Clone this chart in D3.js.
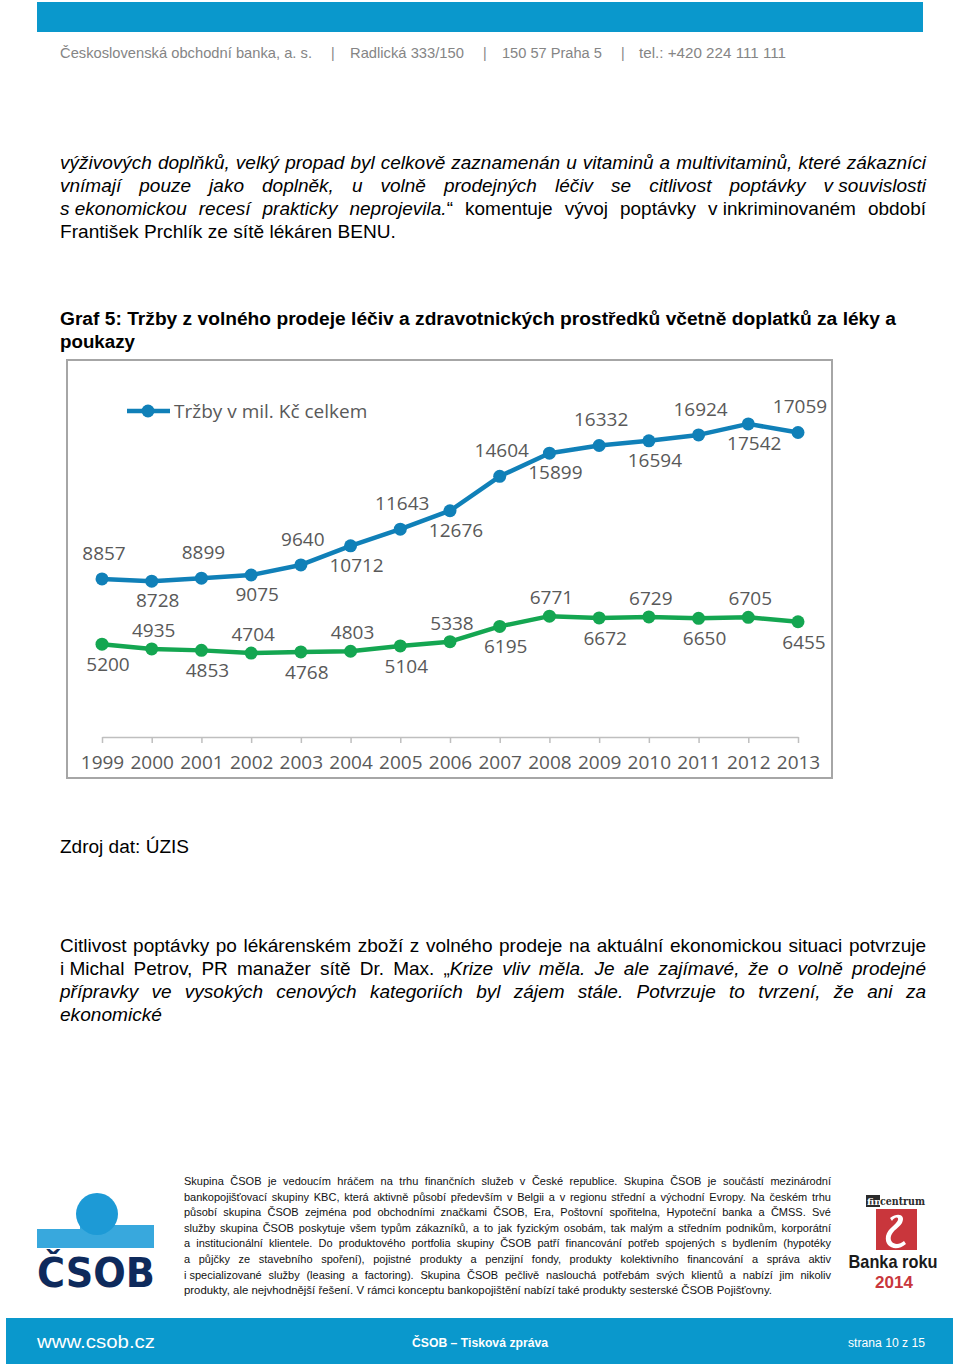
<!DOCTYPE html>
<html><head><meta charset="utf-8">
<script src="https://cdn.jsdelivr.net/npm/d3@7/dist/d3.min.js"></script>
<style>
html,body{margin:0;padding:0;background:#fff;}
svg{display:block;}
</style></head>
<body>
<svg id="page" width="960" height="1369"></svg>
<script>
// ---------- DATA ----------
const years = ["1999","2000","2001","2002","2003","2004","2005","2006","2007","2008","2009","2010","2011","2012","2013"];
const salesTotal = [8857,8728,8899,9075,9640,10712,11643,12676,14604,15899,16332,16594,16924,17542,17059];
const salesOther = [5200,4935,4853,4704,4768,4803,5104,5338,6195,6771,6672,6729,6650,6705,6455];
const legendLabel = "Tržby v mil. Kč celkem";
const yDomain = [0, 20000];

const chartTitle = ["Graf 5: Tržby z volného prodeje léčiv a zdravotnických prostředků včetně doplatků za léky a", "poukazy"];
const topParagraph = [
  "*výživových doplňků, velký propad byl celkově zaznamenán u vitaminů a multivitaminů, které zákazníci",
  "*vnímají pouze jako doplněk, u volně prodejných léčiv se citlivost poptávky v~souvislosti",
  "*s~ekonomickou recesí prakticky neprojevila.*“ komentuje vývoj poptávky v~inkriminovaném období",
  "František Prchlík ze sítě lékáren BENU."
];
const sourceText = "Zdroj dat: ÚZIS";
const lowerParagraph = [
  "Citlivost poptávky po lékárenském zboží z volného prodeje na aktuální ekonomickou situaci potvrzuje",
  "i~Michal Petrov, PR manažer sítě Dr. Max. „*Krize vliv měla. Je ale zajímavé, že o volně prodejné",
  "*přípravky ve vysokých cenových kategoriích byl zájem stále. Potvrzuje to tvrzení, že ani za",
  "*ekonomické"
];
const footerParagraph = [
  "Skupina ČSOB je vedoucím hráčem na trhu finančních služeb v České republice. Skupina ČSOB je součástí mezinárodní",
  "bankopojišťovací skupiny KBC, která aktivně působí především v Belgii a v regionu střední a východní Evropy. Na českém trhu",
  "působí skupina ČSOB zejména pod obchodními značkami ČSOB, Era, Poštovní spořitelna, Hypoteční banka a ČMSS. Své",
  "služby skupina ČSOB poskytuje všem typům zákazníků, a to jak fyzickým osobám, tak malým a středním podnikům, korporátní",
  "a institucionální klientele. Do produktového portfolia skupiny ČSOB patří financování potřeb spojených s bydlením (hypotéky",
  "a půjčky ze stavebního spoření), pojistné produkty a penzijní fondy, produkty kolektivního financování a správa aktiv",
  "i~specializované služby (leasing a factoring). Skupina ČSOB pečlivě naslouchá potřebám svých klientů a nabízí jim nikoliv",
  "produkty, ale nejvhodnější řešení. V rámci konceptu bankopojištění nabízí také produkty sesterské ČSOB Pojišťovny."
];
const headerParts = ["Československá obchodní banka, a. s.", "|", "Radlická 333/150", "|", "150 57 Praha 5", "|", "tel.: +420 224 111 111"];

// ---------- STYLE ----------
const BLUE = "#1080b8", GREEN = "#14a651", LABEL = "#595959";
const BAR = "#0a98cc";
const svg = d3.select("#page");

// ---------- TEXT HELPER ----------
function parseWords(str){
  let italic = false;
  return str.split(" ").map(w => {
    const segs = []; let cur = {t:"", it:italic};
    for (const ch of w){
      if (ch === "*"){ if (cur.t) segs.push(cur); italic = !italic; cur = {t:"", it:italic}; }
      else cur.t += (ch === "~" ? "\u00a0" : ch);
    }
    if (cur.t) segs.push(cur);
    return segs;
  });
}
function placeLine(str, x0, width, y, o){
  const fam = o.family || "'Liberation Sans', Arial, sans-serif";
  const g = svg.append("g");
  const words = parseWords(str);
  const nodes = words.map(segs => {
    const t = g.append("text").attr("y", y)
      .attr("font-family", fam)
      .attr("font-size", o.size).attr("font-weight", o.weight || "normal")
      .attr("fill", o.color || "#000");
    segs.forEach(s => t.append("tspan").attr("font-style", s.it ? "italic" : "normal").text(s.t));
    return t;
  });
  const widths = nodes.map(n => n.node().getComputedTextLength());
  const sum = d3.sum(widths);
  const m1 = g.append("text").attr("font-family", fam).attr("font-size", o.size).attr("font-weight", o.weight||"normal").text("x\u00a0x");
  const m2 = g.append("text").attr("font-family", fam).attr("font-size", o.size).attr("font-weight", o.weight||"normal").text("xx");
  const sp = m1.node().getComputedTextLength() - m2.node().getComputedTextLength();
  m1.remove(); m2.remove();
  let gap = sp, scale = 1;
  if (o.justify && nodes.length > 1) gap = (width - sum) / (nodes.length - 1);
  else if (o.fit) { scale = width / (sum + sp * (nodes.length - 1)); }
  let x = 0;
  nodes.forEach((n, i) => { n.attr("x", x); x += widths[i] + gap; });
  g.attr("transform", `translate(${x0},${y}) scale(${scale},1) translate(0,${-y})`);
  return g;
}

// ---------- HEADER ----------
svg.append("rect").attr("x", 37).attr("y", 2).attr("width", 886).attr("height", 30).attr("fill", BAR);
const headerX = [[60,252],[331,0],[350,114],[483,0],[502,100],[621,0],[639,147]];
headerParts.forEach((p, i) => {
  const [x, w] = headerX[i];
  if (w) placeLine(p, x, w, 58, {size:14, color:"#858585", fit:true});
  else svg.append("text").attr("x", x).attr("y", 58).attr("font-family","'Liberation Sans', Arial").attr("font-size",14).attr("fill","#858585").text(p);
});

// ---------- TOP PARAGRAPH ----------
topParagraph.forEach((l, i) => {
  const last = i === topParagraph.length - 1;
  placeLine(l, 60, last ? 336 : 866, 169 + i * 23, {size:19, justify:!last, fit:last});
});

// ---------- TITLE ----------
placeLine(chartTitle[0], 60, 836, 325, {size:19, weight:"bold", fit:true});
placeLine(chartTitle[1], 60, 75, 348, {size:19, weight:"bold", fit:true});

// ---------- CHART ----------
svg.append("rect").attr("x", 67).attr("y", 360).attr("width", 765).attr("height", 418)
  .attr("fill", "#fff").attr("stroke", "#a6a6a6").attr("stroke-width", 2);

const x = d3.scalePoint().domain(years).range([102, 798]);
const y = d3.scaleLinear().domain(yDomain).range([737, 380]);

const axis = svg.append("g").attr("transform", "translate(0,737)")
  .call(d3.axisBottom(x).tickSize(6).tickSizeOuter(0).tickPadding(13));
axis.select(".domain").attr("stroke", "#bfbfbf").attr("stroke-width", 1.5);
axis.selectAll(".tick line").attr("stroke", "#bfbfbf").attr("stroke-width", 1.5);
axis.selectAll(".tick text").attr("font-family", "'Open Sans', sans-serif").attr("font-size", 19).attr("fill", LABEL);

const line = d3.line().x((d, i) => x(years[i])).y(d => y(d));
function drawSeries(vals, color, aboveEven, offUp, offDown){
  svg.append("path").datum(vals).attr("d", line).attr("fill", "none")
    .attr("stroke", color).attr("stroke-width", 4.5).attr("stroke-linejoin", "round");
  svg.append("g").selectAll("circle").data(vals).join("circle")
    .attr("cx", (d, i) => x(years[i])).attr("cy", d => y(d)).attr("r", 6.5).attr("fill", color);
  svg.append("g").selectAll("text").data(vals).join("text")
    .attr("x", (d, i) => x(years[i]) + (((i % 2 === 0) === aboveEven) ? 2 : 6))
    .attr("y", (d, i) => y(d) + (((i % 2 === 0) === aboveEven) ? -offUp : offDown) + 7)
    .attr("text-anchor", "middle").attr("font-family", "'Open Sans', sans-serif")
    .attr("font-size", 19).attr("fill", LABEL).text(d => d);
}
drawSeries(salesOther, GREEN, false, 19, 20);
drawSeries(salesTotal, BLUE, true, 26, 19);

// legend
const lg = svg.append("g");
lg.append("line").attr("x1", 127).attr("x2", 170).attr("y1", 411).attr("y2", 411).attr("stroke", BLUE).attr("stroke-width", 4.5);
lg.append("circle").attr("cx", 148).attr("cy", 411).attr("r", 6.5).attr("fill", BLUE);
lg.append("text").attr("x", 174).attr("y", 418).attr("font-family", "'Open Sans', sans-serif")
  .attr("font-size", 19).attr("fill", LABEL).text(legendLabel);

// ---------- SOURCE + LOWER PARAGRAPH ----------
placeLine(sourceText, 60, 129, 853, {size:19, fit:true});
lowerParagraph.forEach((l, i) => {
  const last = i === lowerParagraph.length - 1;
  placeLine(l, 60, last ? 102 : 866, 952 + i * 23, {size:19, justify:!last, fit:last});
});

// ---------- FOOTER TEXT ----------
footerParagraph.forEach((l, i) => {
  const last = i === footerParagraph.length - 1;
  placeLine(l, 184, last ? 588 : 647, 1185 + i * 15.6, {size:11, justify:!last, fit:last, color:"#111"});
});

// ---------- ČSOB LOGO ----------
const logo = svg.append("g");
logo.append("path").attr("d", "M37,1229 L80,1229 L80,1225 L154,1225 L154,1248 L37,1248 Z").attr("fill", "#38a8dd");
logo.append("circle").attr("cx", 97).attr("cy", 1214).attr("r", 21).attr("fill", "#1d9ad6");
logo.append("text").attr("x", 37).attr("y", 1287).attr("font-family", "'DejaVu Sans', sans-serif")
  .attr("font-weight", "bold").attr("font-size", 40).attr("fill", "#0e2a5c")
  .attr("textLength", 118).attr("lengthAdjust", "spacingAndGlyphs").text("ČSOB");

// ---------- FINCENTRUM LOGO ----------
const fc = svg.append("g");
fc.append("rect").attr("x", 866).attr("y", 1195).attr("width", 14).attr("height", 12).attr("fill", "#2b2b2b");
fc.append("text").attr("x", 867).attr("y", 1205).attr("font-family", "'DejaVu Serif', serif").attr("font-weight","bold")
  .attr("font-size", 10).attr("fill", "#fff").text("fin");
fc.append("text").attr("x", 880).attr("y", 1205).attr("font-family", "'DejaVu Serif', serif").attr("font-weight","bold")
  .attr("font-size", 11).attr("fill", "#2b2b2b").attr("textLength", 45).attr("lengthAdjust","spacingAndGlyphs").text("centrum");
fc.append("rect").attr("x", 876).attr("y", 1209).attr("width", 41).attr("height", 41).attr("fill", "#c9363c");
fc.append("path").attr("d", "M890,1218 C898,1212 906,1215 902,1223 C899,1228 893,1230 891,1236 C889,1243 897,1247 904,1241 L906,1244 C897,1252 884,1248 886,1236 C888,1228 896,1225 898,1220 C899,1216 894,1217 892,1221 Z")
  .attr("fill", "#fff");
fc.append("text").attr("x", 893).attr("y", 1268).attr("text-anchor","middle").attr("font-family", "'Liberation Sans', sans-serif").attr("font-weight","bold")
  .attr("font-size", 19).attr("fill", "#1a1a1a").attr("textLength", 89).attr("lengthAdjust","spacingAndGlyphs").text("Banka roku");
fc.append("text").attr("x", 894).attr("y", 1288).attr("text-anchor","middle").attr("font-family", "'Liberation Sans', sans-serif").attr("font-weight","bold")
  .attr("font-size", 17).attr("fill", "#c9363c").text("2014");

// ---------- BOTTOM BAR ----------
svg.append("rect").attr("x", 6).attr("y", 1318).attr("width", 947).attr("height", 46).attr("fill", BAR);
placeLine("www.csob.cz", 37, 118, 1348, {size:19, color:"#fff", fit:true});
placeLine("ČSOB – Tisková zpráva", 412, 136, 1347, {size:12.5, weight:"bold", color:"#fff", fit:true});
placeLine("strana 10 z 15", 848, 77, 1347, {size:12.5, color:"#fff", fit:true});
</script>
</body></html>
